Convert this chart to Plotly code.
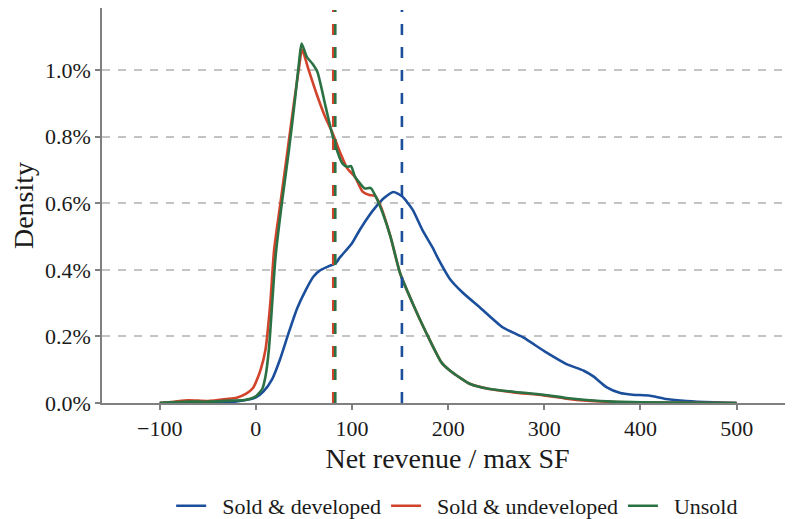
import plotly.graph_objects as go

# Density curves (x = net revenue / max SF, y = density in percent)
blue_x = [-100, -50, -20, -5, 0, 8, 17, 25, 34, 43, 52, 60, 66, 75, 83, 87, 100, 108, 117, 125, 133, 143, 152, 163, 173, 184, 189, 202, 215, 233, 257, 278, 302, 323, 341, 351, 365, 379, 392, 410, 427, 448, 476, 500]
blue_y = [0, 0.002, 0.005, 0.012, 0.017, 0.035, 0.072, 0.13, 0.21, 0.285, 0.34, 0.38, 0.397, 0.41, 0.42, 0.436, 0.48, 0.52, 0.56, 0.59, 0.615, 0.634, 0.621, 0.581, 0.521, 0.466, 0.437, 0.372, 0.332, 0.287, 0.227, 0.197, 0.152, 0.117, 0.097, 0.08, 0.047, 0.03, 0.025, 0.022, 0.012, 0.006, 0.002, 0]

red_x = [-100, -85, -70, -50, -30, -20, -10, -3, 0, 5, 10, 15, 19, 26, 33, 40, 45, 48, 55, 63, 72, 80, 88, 95, 103, 111, 118, 124, 130, 140, 150, 163, 177, 193, 202, 223, 243, 268, 299, 323, 344, 372, 400, 500]
red_y = [0, 0.004, 0.008, 0.006, 0.012, 0.016, 0.028, 0.045, 0.062, 0.1, 0.16, 0.3, 0.46, 0.61, 0.76, 0.91, 1.01, 1.062, 1.0, 0.93, 0.86, 0.81, 0.75, 0.705, 0.68, 0.635, 0.625, 0.622, 0.59, 0.5, 0.39, 0.30, 0.212, 0.122, 0.097, 0.057, 0.042, 0.032, 0.023, 0.013, 0.007, 0.003, 0.001, 0]

green_x = [-100, -70, -50, -25, -10, 0, 6.6, 10, 13.5, 17, 20.5, 27, 34.4, 41, 45.5, 47.6, 53, 58.7, 64, 72.6, 81, 90, 95, 99, 103, 107, 113, 119.5, 126.4, 132, 140, 150, 163, 177, 193, 202, 223, 243, 268, 299, 323, 344, 372, 400, 500]
green_y = [0, 0.004, 0.004, 0.007, 0.01, 0.02, 0.042, 0.08, 0.16, 0.3, 0.44, 0.6, 0.76, 0.92, 1.04, 1.08, 1.04, 1.02, 0.995, 0.89, 0.79, 0.72, 0.71, 0.712, 0.68, 0.665, 0.645, 0.646, 0.61, 0.57, 0.5, 0.39, 0.30, 0.212, 0.122, 0.097, 0.057, 0.042, 0.034, 0.025, 0.015, 0.009, 0.004, 0.002, 0]

series_names = ["Sold & developed", "Sold & undeveloped", "Unsold"]
series_colors = ["#1B4F9C", "#D2432B", "#2A7243"]
series_means = [151.9, 80.5, 82.6]

x_ticks = [-100, 0, 100, 200, 300, 400, 500]
y_ticks = [0, 0.002, 0.004, 0.006, 0.008, 0.010]

font_family = "Liberation Serif, Times New Roman, serif"
text_color = "#1a1a1a"
pad = "\u00a0\u00a0"

fig = go.Figure()

curves = [(blue_x, blue_y), (red_x, red_y), (green_x, green_y)]
for (xs, ys), name, col in zip(curves, series_names, series_colors):
    fig.add_trace(go.Scatter(
        x=xs, y=[v / 100 for v in ys], mode="lines", name=pad + name,
        line=dict(color=col, width=2.6, shape="spline", smoothing=0.6),
    ))

for m, col in zip(series_means, series_colors):
    fig.add_shape(type="line", xref="x", yref="paper", x0=m, x1=m, y0=0, y1=0.995,
                  line=dict(color=col, width=2.6, dash="11px,12px"), layer="above")

axis_common = dict(
    showline=True, linecolor="#808080", linewidth=1.5,
    ticks="outside", ticklen=5, tickcolor="#808080", tickwidth=1.5,
    tickfont=dict(family=font_family, size=22, color=text_color),
    zeroline=False, automargin=False,
)

fig.update_xaxes(
    **axis_common,
    range=[-160, 558.6], tickvals=x_ticks,
    showgrid=False,
    title=dict(text="Net revenue / max SF", font=dict(family=font_family, size=28, color=text_color), standoff=8),
)
fig.update_yaxes(
    **axis_common,
    range=[0, 0.01187], tickvals=y_ticks, tickformat=".1%",
    showgrid=True, gridcolor="#C4C4C4", gridwidth=1.5, griddash="8px,8px",
    title=dict(text="Density", font=dict(family=font_family, size=28, color=text_color), standoff=10),
)

fig.update_layout(
    width=785, height=519,
    margin=dict(l=94, r=0, t=0, b=123),
    plot_bgcolor="white", paper_bgcolor="white",
    font=dict(family=font_family, size=22, color=text_color),
    legend=dict(orientation="h", x=0.514, xanchor="center", y=-0.26, yanchor="middle",
                font=dict(family=font_family, size=22), itemwidth=30),
    showlegend=True,
)

fig.write_html("out.html")
